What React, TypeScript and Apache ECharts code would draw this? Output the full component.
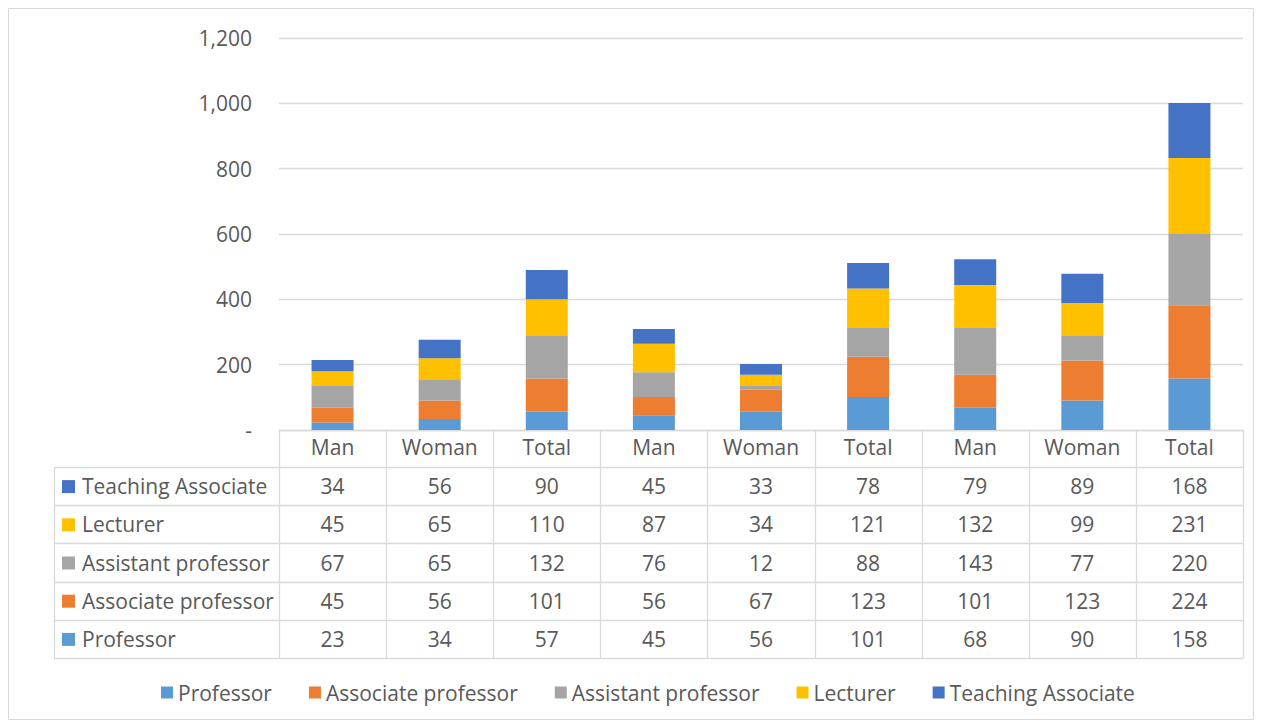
import React, { useEffect, useRef } from "react";
import * as echarts from "echarts";

const categories = ["Man", "Woman", "Total", "Man", "Woman", "Total", "Man", "Woman", "Total"];
const seriesNames = ["Professor", "Associate professor", "Assistant professor", "Lecturer", "Teaching Associate"];
const professor = [23, 34, 57, 45, 56, 101, 68, 90, 158];
const associateProfessor = [45, 56, 101, 56, 67, 123, 101, 123, 224];
const assistantProfessor = [67, 65, 132, 76, 12, 88, 143, 77, 220];
const lecturer = [45, 65, 110, 87, 34, 121, 132, 99, 231];
const teachingAssociate = [34, 56, 90, 45, 33, 78, 79, 89, 168];
const colors = ["#5B9BD5", "#ED7D31", "#A5A5A5", "#FFC000", "#4472C4"];
const yTicks = { min: 0, max: 1200, interval: 200 };

const FONT = "'Open Sans', 'Liberation Sans', sans-serif";
const FS = 21;
const TEXT = "#595959";
const LINE = "#d9d9d9";

export default function App() {
  const ref = useRef<HTMLDivElement>(null);
  useEffect(() => {
    document.body.style.margin = "0";
    const chart = echarts.init(ref.current!, undefined, { renderer: "svg" });
    const allData = [professor, associateProfessor, assistantProfessor, lecturer, teachingAssociate];

    const W = 1262, H = 728;
    const gridLeft = 279, gridRight = 1243, gridTop = 38, gridBottom = 430;
    const tableLeft = 54;
    const headerBottom = 467;
    const rowH = 38.2;
    const colW = (gridRight - gridLeft) / categories.length;

    const graphics: any[] = [];
    graphics.push({ type: "rect", shape: { x: 8.5, y: 8.5, width: 1245, height: 711 }, style: { fill: "none", stroke: LINE, lineWidth: 1 }, silent: true });
    graphics.push({ type: "line", shape: { x1: gridLeft, y1: gridBottom + 0.5, x2: gridRight, y2: gridBottom + 0.5 }, style: { stroke: LINE, lineWidth: 1.3 } });
    const rowOrder = [4, 3, 2, 1, 0];
    for (let r = 0; r <= rowOrder.length; r++) {
      const y = Math.round(headerBottom + r * rowH) + 0.5;
      graphics.push({ type: "line", shape: { x1: tableLeft, y1: y, x2: gridRight, y2: y }, style: { stroke: LINE, lineWidth: 1.3 } });
    }
    const tableBottom = Math.round(headerBottom + rowOrder.length * rowH) + 0.5;
    graphics.push({ type: "line", shape: { x1: tableLeft + 0.5, y1: headerBottom, x2: tableLeft + 0.5, y2: tableBottom }, style: { stroke: LINE, lineWidth: 1.3 } });
    for (let c = 0; c <= categories.length; c++) {
      const x = Math.round(gridLeft + c * colW) + 0.5;
      graphics.push({ type: "line", shape: { x1: x, y1: gridBottom, x2: x, y2: tableBottom }, style: { stroke: LINE, lineWidth: 1.3 } });
    }
    rowOrder.forEach((si, r) => {
      const cy = headerBottom + r * rowH + rowH / 2;
      graphics.push({ type: "rect", shape: { x: 62, y: cy - 6, width: 13, height: 13 }, style: { fill: colors[si] } });
      graphics.push({ type: "text", x: 82, y: cy, style: { text: seriesNames[si], fill: TEXT, font: `${FS}px ${FONT}`, verticalAlign: "middle", align: "left" } });
      allData[si].forEach((v, c) => {
        graphics.push({ type: "text", x: gridLeft + c * colW + colW / 2, y: cy, style: { text: String(v), fill: TEXT, font: `${FS}px ${FONT}`, verticalAlign: "middle", align: "center" } });
      });
    });

    chart.setOption({
      animation: false,
      color: colors,
      textStyle: { fontFamily: FONT },
      grid: { left: gridLeft, right: W - gridRight, top: gridTop, bottom: H - gridBottom, containLabel: false },
      legend: {
        data: seriesNames,
        bottom: 20,
        left: 156,
        icon: "rect",
        itemWidth: 12,
        itemHeight: 12,
        itemGap: 37,
        textStyle: { color: TEXT, fontSize: FS, fontFamily: FONT },
      },
      xAxis: {
        type: "category",
        data: categories,
        axisLine: { show: false },
        axisTick: { show: false },
        axisLabel: { color: TEXT, fontSize: FS, margin: 6, fontFamily: FONT },
      },
      yAxis: {
        type: "value",
        min: yTicks.min,
        max: yTicks.max,
        interval: yTicks.interval,
        axisLine: { show: false },
        axisTick: { show: false },
        splitLine: { lineStyle: { color: LINE, width: 1.3 } },
        axisLabel: {
          color: TEXT,
          fontSize: FS,
          margin: 27,
          fontFamily: FONT,
          formatter: (v: number) => (v === 0 ? "-" : v.toLocaleString("en-US")),
        },
      },
      series: seriesNames.map((name, i) => ({
        name,
        type: "bar",
        stack: "total",
        barWidth: 42,
        data: allData[i],
      })),
      graphic: graphics,
    });
    return () => chart.dispose();
  }, []);
  return <div ref={ref} style={{ width: 1262, height: 728 }} />;
}
